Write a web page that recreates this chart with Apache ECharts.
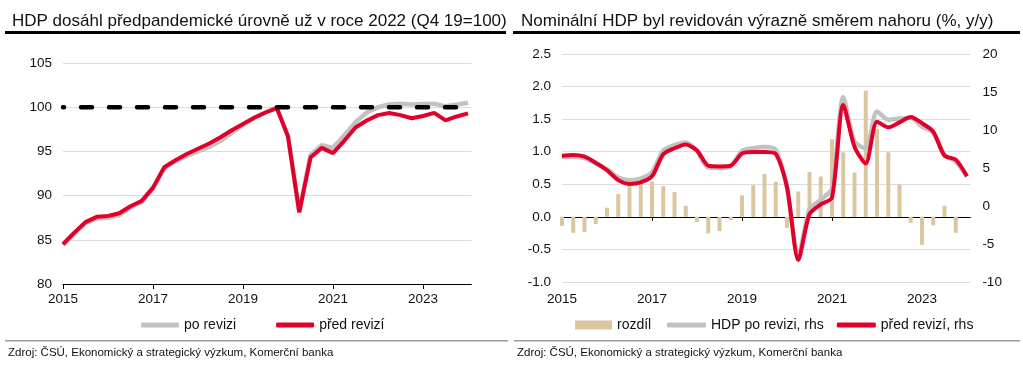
<!DOCTYPE html>
<html><head><meta charset="utf-8">
<script src="https://cdn.jsdelivr.net/npm/echarts@6/dist/echarts.min.js"></script>
<style>html,body{margin:0;padding:0;background:#fff}#c{width:1023px;height:365px}</style>
</head><body><div id="c"></div>
<script>
const quarters = ['2015Q1','2015Q2','2015Q3','2015Q4','2016Q1','2016Q2','2016Q3','2016Q4',
  '2017Q1','2017Q2','2017Q3','2017Q4','2018Q1','2018Q2','2018Q3','2018Q4',
  '2019Q1','2019Q2','2019Q3','2019Q4','2020Q1','2020Q2','2020Q3','2020Q4',
  '2021Q1','2021Q2','2021Q3','2021Q4','2022Q1','2022Q2','2022Q3','2022Q4',
  '2023Q1','2023Q2','2023Q3','2023Q4','2024Q1'];
const yearTickLabels = ['2015','2017','2019','2021','2023'];

// Left chart: real GDP level (Q4 2019 = 100)
const levelPoRevizi = [84.4,85.7,86.9,87.4,87.5,87.8,88.7,89.3,90.8,93.1,93.9,94.5,
  95.0,95.5,96.2,97.1,98.0,98.8,99.4,100.0,96.7,88.2,94.6,95.7,95.4,96.8,98.3,99.4,
  100.0,100.3,100.4,100.3,100.35,100.4,100.1,100.3,100.5];
const levelPredRevizi = [84.5,85.8,87.0,87.6,87.7,88.0,88.8,89.4,90.9,93.2,94.0,94.7,
  95.3,95.9,96.6,97.4,98.1,98.8,99.4,99.9,96.7,88.1,94.3,95.4,94.8,96.2,97.7,98.5,
  99.1,99.35,99.1,98.75,99.0,99.35,98.5,98.95,99.3];
const preCovidLevel = [100,100,100,100,100,100,100,100,100,100,100,100,100,100,100,100,
  100,100,100,100,100,100,100,100,100,100,100,100,100,100,100,100,100,100,100,100,100];

// Right chart: nominal GDP growth (% y/y)
const rozdil = [-0.14,-0.245,-0.235,-0.11,0.14,0.35,0.505,0.505,0.54,0.475,0.38,0.17,
  -0.08,-0.255,-0.22,-0.05,0.33,0.485,0.66,0.54,-0.17,0.39,0.69,0.62,1.19,0.99,0.68,
  1.94,1.35,0.99,0.5,-0.09,-0.43,-0.13,0.17,-0.245,null];
const nominalPoRevizi = [6.45,6.45,6.3,5.6,4.85,3.75,3.4,3.6,4.45,7.3,8.0,8.35,7.2,5.05,
  5.0,5.25,7.25,7.6,7.75,7.4,2.35,-6.7,-0.4,0.8,2.3,14.3,8.5,7.55,12.45,11.35,11.5,11.6,
  10.45,9.65,6.75,5.85,3.9];
const nominalPredRevizi = [6.6,6.7,6.5,5.7,4.7,3.4,2.9,3.1,3.9,6.8,7.6,8.1,7.3,5.3,5.2,
  5.3,6.9,7.1,7.1,6.85,2.5,-7.1,-1.1,0.2,1.1,13.3,7.8,5.6,11.1,10.35,11.0,11.7,10.9,9.8,
  6.6,6.1,3.9];

const RED = '#e2002a', GRAY = '#c2c2c2', TAN = '#dac79f', GRID = '#dcdcdc';
const FONT = '"Liberation Sans", Arial, sans-serif';
const tickPos = yearTickLabels.map(y => quarters.indexOf(y + 'Q1'));
const pairs = arr => arr.map((v, i) => [i, v]);
const yearFmt = v => { const k = tickPos.indexOf(Math.round(v)); return k >= 0 ? yearTickLabels[k] : ''; };
const XMAX = 36.3;

const chart = echarts.init(document.getElementById('c'), null, {renderer: 'canvas'});
chart.setOption({
  animation: false,
  textStyle: {fontFamily: FONT},
  title: [
    {text: 'HDP dosáhl předpandemické úrovně už v roce 2022 (Q4 19=100)', left: 7, top: 8,
     textStyle: {fontSize: 17, fontWeight: 'normal', color: '#111', fontFamily: FONT}},
    {text: 'Nominální HDP byl revidován výrazně směrem nahoru (%, y/y)', left: 516, top: 8,
     textStyle: {fontSize: 17, fontWeight: 'normal', color: '#111', fontFamily: FONT}}
  ],
  graphic: [
    {type: 'rect', shape: {x: 5, y: 31, width: 501, height: 3}, style: {fill: '#000'}},
    {type: 'rect', shape: {x: 513, y: 31, width: 507, height: 3}, style: {fill: '#000'}},
    {type: 'rect', shape: {x: 5, y: 340, width: 503, height: 1.5}, style: {fill: '#9a9a9a'}},
    {type: 'rect', shape: {x: 514, y: 340, width: 506, height: 1.5}, style: {fill: '#9a9a9a'}},
    {type: 'text', x: 8, y: 347, style: {text: 'Zdroj: ČSÚ, Ekonomický a strategický výzkum, Komerční banka', font: '11.5px ' + FONT, fill: '#111'}},
    {type: 'text', x: 517, y: 347, style: {text: 'Zdroj: ČSÚ, Ekonomický a strategický výzkum, Komerční banka', font: '11.5px ' + FONT, fill: '#111'}}
  ],
  legend: [
    {data: ['po revizi', 'před revizí'], left: 141, top: 318, padding: 0, icon: 'roundRect', itemWidth: 38, itemHeight: 5,
     itemGap: 40, textStyle: {fontSize: 14, color: '#111', fontFamily: FONT}},
    {data: ['rozdíl'], left: 575, top: 318, padding: 0, icon: 'rect', itemWidth: 37, itemHeight: 9,
     textStyle: {fontSize: 14, color: '#111', fontFamily: FONT}},
    {data: ['HDP po revizi, rhs', 'před revizí, rhs'], left: 667, top: 318, padding: 0, icon: 'roundRect', itemWidth: 39, itemHeight: 5,
     itemGap: 13, textStyle: {fontSize: 14, color: '#111', fontFamily: FONT}}
  ],
  grid: [
    {left: 63, top: 63, width: XMAX * 11.25, height: 221, containLabel: false},
    {left: 562, top: 54, width: XMAX * 11.25, height: 228, containLabel: false}
  ],
  xAxis: [
    {gridIndex: 0, type: 'value', min: 0, max: XMAX,
     axisLine: {show: true, onZero: false, lineStyle: {color: '#000', width: 1}},
     axisTick: {show: true, customValues: tickPos, length: 5, lineStyle: {color: '#000'}},
     axisLabel: {customValues: tickPos, formatter: yearFmt, fontSize: 13.5, color: '#111', margin: 8},
     splitLine: {show: false}},
    {gridIndex: 1, type: 'value', min: 0, max: XMAX, position: 'bottom',
     axisLine: {show: true, onZero: true, onZeroAxisIndex: 1, lineStyle: {color: '#000', width: 1}},
     axisTick: {show: true, customValues: tickPos, length: 4, lineStyle: {color: '#000'}},
     axisLabel: {show: false}, splitLine: {show: false}},
    {gridIndex: 1, type: 'value', min: 0, max: XMAX, position: 'bottom',
     axisLine: {show: false, onZero: false}, axisTick: {show: false},
     axisLabel: {customValues: tickPos, formatter: yearFmt, fontSize: 13.5, color: '#111', margin: 10},
     splitLine: {show: false}}
  ],
  yAxis: [
    {gridIndex: 0, type: 'value', min: 80, max: 105, interval: 5,
     axisLine: {show: false}, axisTick: {show: false},
     axisLabel: {fontSize: 13.5, color: '#111', margin: 11},
     splitLine: {lineStyle: {color: GRID, width: 1}}},
    {gridIndex: 1, type: 'value', min: -1, max: 2.5, interval: 0.5, position: 'left',
     axisLine: {show: false}, axisTick: {show: false},
     axisLabel: {fontSize: 13.5, color: '#111', margin: 11, formatter: v => v.toFixed(1)},
     splitLine: {lineStyle: {color: GRID, width: 1}}},
    {gridIndex: 1, type: 'value', min: -10, max: 20, interval: 5, position: 'right',
     axisLine: {show: false}, axisTick: {show: false},
     axisLabel: {fontSize: 13.5, color: '#111', margin: 12},
     splitLine: {show: false}}
  ],
  series: [
    {name: 'po revizi', type: 'line', xAxisIndex: 0, yAxisIndex: 0, data: pairs(levelPoRevizi),
     showSymbol: false, color: GRAY, lineStyle: {color: GRAY, width: 4.5}, z: 2},
    {name: 'před revizí', type: 'line', xAxisIndex: 0, yAxisIndex: 0, data: pairs(levelPredRevizi),
     showSymbol: false, color: RED, lineStyle: {color: RED, width: 4}, z: 3},
    {name: 'Q4 2019', type: 'line', xAxisIndex: 0, yAxisIndex: 0, data: pairs(preCovidLevel),
     showSymbol: false, color: '#000',
     lineStyle: {color: '#000', width: 4.5, type: [11, 17], dashOffset: 10, cap: 'round'}, z: 4},
    {name: 'rozdíl', type: 'bar', xAxisIndex: 1, yAxisIndex: 1, data: pairs(rozdil),
     barWidth: 4, color: TAN, itemStyle: {color: TAN}, z: 1},
    {name: 'HDP po revizi, rhs', type: 'line', xAxisIndex: 1, yAxisIndex: 2, data: pairs(nominalPoRevizi),
     showSymbol: false, smooth: 0.25, color: GRAY, lineStyle: {color: GRAY, width: 4.5}, z: 2},
    {name: 'před revizí, rhs', type: 'line', xAxisIndex: 1, yAxisIndex: 2, data: pairs(nominalPredRevizi),
     showSymbol: false, smooth: 0.25, color: RED, lineStyle: {color: RED, width: 4}, z: 3}
  ]
});
</script></body></html>
